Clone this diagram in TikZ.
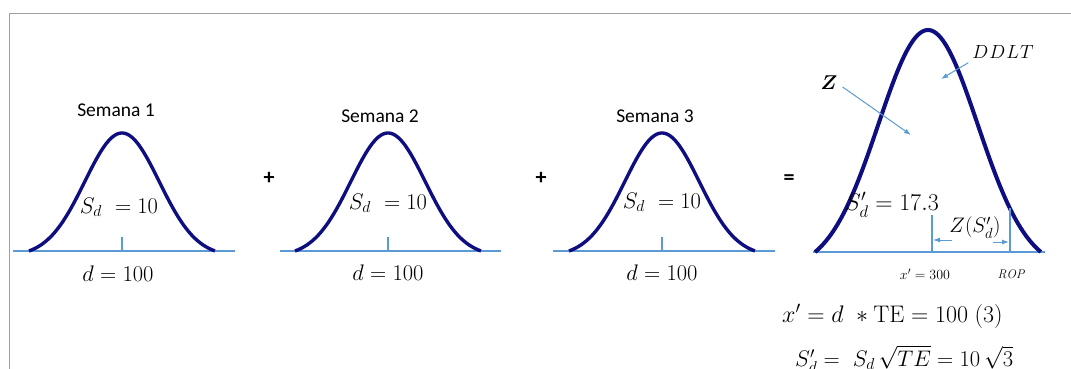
\RequirePackage{fix-cm}
\documentclass[tikz,border=0pt]{standalone}
\usepackage{amsmath}
\usepackage{fontspec}
\newfontfamily\carl{Carlito}
\usetikzlibrary{arrows.meta}
\definecolor{navy}{RGB}{14,14,128}
\definecolor{lblue}{RGB}{91,155,213}
\definecolor{frame}{RGB}{160,160,160}
\tikzset{
  curve/.style={navy,line width=3.4pt,line join=round},
  bigcurve/.style={navy,line width=4pt,line join=round},
  axis/.style={lblue,line width=1.8pt},
  tick/.style={lblue,line width=1.6pt},
  lbl/.style={inner sep=0pt,font=\carl\fontsize{19.5}{22}\selectfont},
  mth/.style={inner sep=0pt,font=\fontsize{22.5}{26}\selectfont},
  op/.style={inner sep=0pt,font=\carl\bfseries\fontsize{22}{24}\selectfont},
  small/.style={inner sep=0pt,font=\fontsize{14}{16}\selectfont},
  pointer/.style={lblue,line width=1pt,-{Latex[length=7pt,width=5pt]}},
}
\begin{document}
\begin{tikzpicture}[x=1pt,y=-1pt]
\useasboundingbox (0,0) rectangle (1071,369);
\draw[frame,line width=0.8pt] (9,369) -- (9,13) -- (1071,13);
% small curves
\foreach \cx/\lx/\rx/\n in {122/13/235/1,388/280/501/2,662/553/775/3}{
  \draw[axis] (\lx,251) -- (\rx,251);
  \draw[tick] (\cx,251) -- (\cx,237);
  \draw[curve] plot[domain=-1:1,samples=90,smooth]
    ({\cx+93*\x},{251-118*(exp(-\x*\x/0.32)-0.0439)/0.9561});
}
\node[lbl] (s1) at (116,110) {Semana 1};
\node[lbl] (s2) at (380,116) {Semana 2};
\node[lbl] (s3) at (655,116) {Semana 3};
\node[mth] (sd1) at (119,207) {$S_d\ = 10$};
\node[mth] (sd2) at (388,203) {$S_d\ = 10$};
\node[mth] (sd3) at (662,202) {$S_d\ = 10$};
\node[mth] (d1) at (118,274) {$d = 100$};
\node[mth] (d2) at (388,273) {$d = 100$};
\node[mth] (d3) at (662,273) {$d = 100$};
\node[op] (p1) at (269,178) {+};
\node[op] (p2) at (541,178) {+};
\node[op] (eq) at (789,180) {=};
% big curve
\draw[axis] (813,252) -- (1045,252);
\draw[bigcurve] plot[domain=-1:1,samples=100,smooth]
  ({928+113*\x},{252-222*(exp(-\x*\x/0.387)-0.0757)/0.9243});
\coordinate (xb) at (932,252);
\coordinate (xt) at (932,215);
\coordinate (rb) at (1010,252);
\coordinate (rt) at (1010,208);
\draw[tick] (xb) -- (xt);
\draw[tick] (rb) -- (rt);
\node[inner sep=0pt,font=\fontsize{24}{28}\selectfont] (sdp) at (892,205) {$S'_d = 17.3$};
\node[inner sep=0pt,font=\fontsize{21}{24}\selectfont] (zs) at (975,228) {$Z(S'_d)$};
\coordinate (la) at (952,240);
\coordinate (lb) at (933,240);
\coordinate (ra) at (993,242);
\coordinate (rb2) at (1009,242);
\draw[pointer] (la) -- (lb);
\draw[pointer] (ra) -- (rb2);
\node[small] (x300) at (925,274) {$x' = 300$};
\node[inner sep=0pt,font=\fontsize{12.5}{15}\selectfont] (rop) at (1011,274) {$\mathit{ROP}$};
\node[inner sep=0pt,font=\fontsize{20}{24}\selectfont] (Z) at (829,83) {$\boldsymbol{Z}$};
\node[inner sep=0pt,font=\fontsize{19}{22}\selectfont] (ddlt) at (1003,52) {$D\hspace{1pt}D\hspace{1pt}L\hspace{1pt}T$};
\coordinate (zt) at (911,135);
\coordinate (dt) at (941,79);
\draw[pointer] (Z.east) ++(5,4) -- (zt);
\draw[pointer] (ddlt.south west) ++(-4,4) -- (dt);
\node[mth,anchor=west,font=\fontsize{24}{28}\selectfont] (e1) at (782,316) {$x' = d\ * \mathrm{TE} = 100\;(3)$};
\node[mth,anchor=west,font=\fontsize{22.5}{26}\selectfont] (e2) at (795,359) {$S'_d =\ S_d\,\sqrt{TE} = 10\,\sqrt{3}$};
\end{tikzpicture}
\end{document}
